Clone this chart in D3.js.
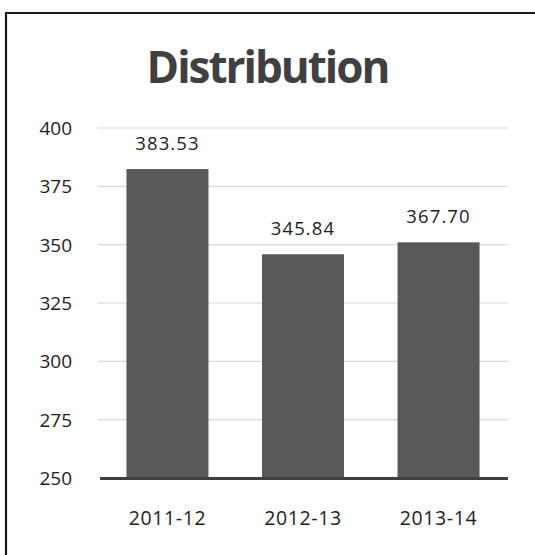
<!DOCTYPE html>
<html>
<head>
<meta charset="utf-8">
<script src="https://cdn.jsdelivr.net/npm/d3@7"></script>
<style>
  html, body { margin: 0; padding: 0; background: #fff; }
  svg { display: block; }
</style>
</head>
<body>
<svg id="chart" width="535" height="555"></svg>
<script>
// Data
const categories = ["2011-12", "2012-13", "2013-14"];
const barValues = [382.4, 345.9, 351.0];          // bar heights as drawn
const valueLabels = ["383.53", "345.84", "367.70"]; // data labels as printed
const yTicks = [250, 275, 300, 325, 350, 375, 400];
const title = "Distribution";

const svg = d3.select("#chart");
const W = 535, H = 555;

// frame (left & top visible)
svg.append("path")
  .attr("d", `M6,${H} L6,13 L${W},13`)
  .attr("fill", "none")
  .attr("stroke", "#1a1a1a")
  .attr("stroke-width", 2.2);

const x = d3.scaleBand()
  .domain(categories)
  .range([98, 508])
  .paddingInner(0.395)
  .paddingOuter(0.21);

const y = d3.scaleLinear()
  .domain([250, 400])
  .range([478, 128]);

// title
svg.append("text")
  .attr("x", W / 2)
  .attr("y", 83)
  .attr("text-anchor", "middle")
  .attr("font-family", "'Open Sans', sans-serif")
  .attr("font-weight", "bold")
  .attr("font-size", 44)
  .attr("letter-spacing", -2)
  .attr("fill", "#404040")
  .text(title);

// gridlines
svg.append("g")
  .selectAll("line")
  .data(yTicks.filter(d => d !== 250))
  .join("line")
  .attr("x1", 98).attr("x2", 508)
  .attr("y1", d => y(d)).attr("y2", d => y(d))
  .attr("stroke", "#d9d9d9")
  .attr("stroke-width", 1.2);

// y tick labels via axis
const yAxis = d3.axisLeft(y).tickValues(yTicks).tickSize(0).tickPadding(0);
const gy = svg.append("g")
  .attr("transform", "translate(72,0)")
  .call(yAxis);
gy.select(".domain").remove();
gy.selectAll("text")
  .attr("font-family", "'Open Sans', sans-serif")
  .attr("font-size", 19)
  .attr("fill", "#1e1e1e")
  .attr("dy", "0.35em");

// bars
svg.append("g")
  .selectAll("rect")
  .data(categories)
  .join("rect")
  .attr("x", d => x(d))
  .attr("width", x.bandwidth())
  .attr("y", (d, i) => y(barValues[i]))
  .attr("height", (d, i) => y(250) - y(barValues[i]))
  .attr("fill", "#595959");

// baseline axis
svg.append("line")
  .attr("x1", 100).attr("x2", 508)
  .attr("y1", y(250) + 0.5).attr("y2", y(250) + 0.5)
  .attr("stroke", "#404040")
  .attr("stroke-width", 3);

// x category labels via axis
const xAxis = d3.axisBottom(x).tickSize(0).tickPadding(0);
const gx = svg.append("g")
  .attr("transform", "translate(0,525)")
  .call(xAxis);
gx.select(".domain").remove();
gx.selectAll("text")
  .attr("font-family", "'Open Sans', sans-serif")
  .attr("font-size", 19.5)
  .attr("letter-spacing", 0.6)
  .attr("fill", "#1e1e1e")
  .attr("dy", 0);

// value labels
svg.append("g")
  .selectAll("text")
  .data(categories)
  .join("text")
  .attr("x", d => x(d) + x.bandwidth() / 2)
  .attr("y", (d, i) => y(barValues[i]) - 19.5)
  .attr("text-anchor", "middle")
  .attr("font-family", "'Open Sans', sans-serif")
  .attr("font-size", 18.5)
  .attr("letter-spacing", 1.1)
  .attr("fill", "#1e1e1e")
  .text((d, i) => valueLabels[i]);
</script>
</body>
</html>
